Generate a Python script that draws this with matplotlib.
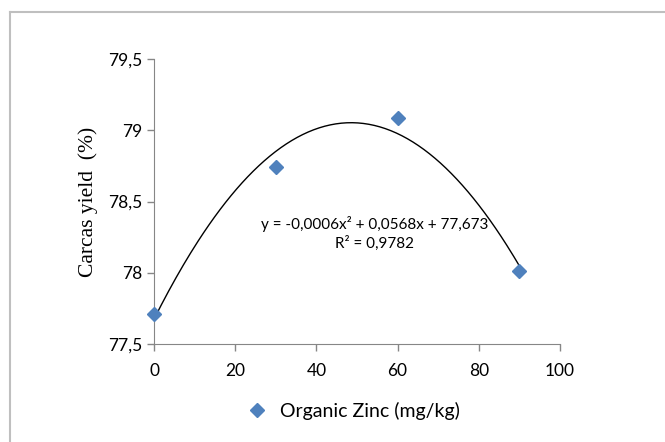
import numpy as np
from matplotlib import pyplot as plt
from matplotlib.lines import Line2D

zinc = [0, 30, 60, 90]
carcass = [77.71, 78.744, 79.084, 78.012]
x_ticks = [0, 20, 40, 60, 80, 100]
y_ticks = [77.5, 78.0, 78.5, 79.0, 79.5]
y_tick_labels = ["77,5", "78", "78,5", "79", "79,5"]
equation = "y = -0,0006x\u00b2 + 0,0568x + 77,673\nR\u00b2 = 0,9782"

plt.rcParams['font.family'] = ['Lato', 'DejaVu Sans']

fig = plt.figure(figsize=(6.65, 4.42), dpi=100)
# axes box taken from the reference pixels
ax = fig.add_axes([154 / 665, 1 - 344 / 442, (560 - 154) / 665, (344 - 59) / 442])

# polynomial trendline (order 2) like Excel
coef = np.polyfit(zinc, carcass, 2)
xs = np.linspace(min(zinc), max(zinc), 200)
ax.plot(xs, np.polyval(coef, xs), color='black', lw=1.0, zorder=2)

ax.plot(zinc, carcass, linestyle='none', marker='D', ms=7, color='#4F81BD',
        zorder=3, clip_on=False)

ax.set_xlim(0, 100)
ax.set_ylim(77.5, 79.5)
ax.set_xticks(x_ticks)
ax.set_yticks(y_ticks)
ax.set_yticklabels(y_tick_labels)
ax.tick_params(axis='both', colors='#868686', labelcolor='black', labelsize=12.5,
               length=5, width=1, direction='out')
ax.tick_params(axis='x', pad=9)
for s in ['top', 'right']:
    ax.spines[s].set_visible(False)
for s in ['left', 'bottom']:
    ax.spines[s].set_color('#868686')

ax.set_ylabel("Carcas yield  (%)", family='Liberation Serif', fontsize=15.5, labelpad=7)

ax.text(54.3, 78.275, equation, ha='center', va='center', fontsize=11, linespacing=1.3)

handle = Line2D([], [], linestyle='none', marker='D', ms=7, color='#4F81BD')
fig.legend([handle], ["Organic Zinc (mg/kg)"], loc='center', bbox_to_anchor=(0.532, 0.07),
           frameon=False, fontsize=14, handlelength=1.0, handletextpad=0.7)

# outer chart border (cut off at right and bottom)
fig.add_artist(Line2D([10 / 665, 1], [1 - 12 / 442, 1 - 12 / 442], color='#BFBFBF', lw=1.5))
fig.add_artist(Line2D([10 / 665, 10 / 665], [0, 1 - 12 / 442], color='#BFBFBF', lw=1.5))

fig.savefig("out.png", dpi=100)
